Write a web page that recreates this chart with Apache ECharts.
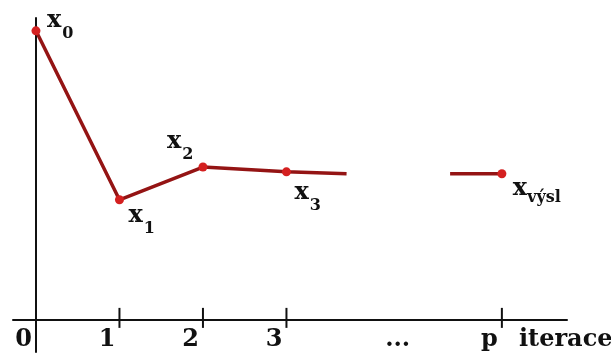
<!DOCTYPE html>
<html>
<head>
<meta charset="utf-8">
<script src="https://cdn.jsdelivr.net/npm/echarts@6/dist/echarts.min.js"></script>
<style>
  html, body { margin: 0; padding: 0; background: #fff; }
  #chart { width: 611px; height: 354px; }
</style>
</head>
<body>
<div id="chart"></div>
<script>
// Iterations of the method: index along the axis and the value reached
const iterX = [0, 1, 2, 3];
const iterY = [9.0, 3.74, 4.76, 4.61];
const iterNames = ['0', '1', '2', '3'];
// the curve fades out after x3 ...
const tailX = 3.72;
const tailY = 4.55;
// ... and picks up again just before the final iteration p
const finalStartX = 4.96;
const finalX = 5.58;
const finalY = 4.55;
const finalName = 'výsl';

// Axis marks along the iteration axis
const tickValues = [1, 2, 3, 5.58];
const axisLabelValues = [0, 1, 2, 3, 4.53, 5.58];
const axisLabelTexts = ['0', '1', '2', '3', '...', 'p'];
const axisTitle = 'iterace';

// where each point's caption sits relative to the point (px)
const captionOffsets = [[11, -22], [9, 4], [-36, -37], [8, 9]];
const finalCaptionOffset = [11, 3];

const serif = 'DejaVu Serif';
const ink = '#111';
const lineColor = '#941414';
const dotColor = '#d42020';

// the y range runs a little below zero so the vertical axis pokes under the iteration axis
const yMin = -1;
const yMax = 9.4;
const gridTop = 18;
const gridBottom = 2;
const chartHeight = 354;
// lift the iteration axis from the grid bottom up to y = 0
const plotHeight = chartHeight - gridTop - gridBottom;
const zeroLift = -Math.round(plotHeight * (0 - yMin) / (yMax - yMin));

// subscripts are dropped below the letter by opposite paddings
const captionRich = {
  x: { fontFamily: serif, fontWeight: 'bold', fontSize: 24, padding: [0, 0, 13, 0], color: ink },
  s: { fontFamily: serif, fontWeight: 'bold', fontSize: 16, padding: [13, 0, 0, 1], color: ink },
  v: { fontFamily: serif, fontWeight: 'bold', fontSize: 16, padding: [9, 0, 4, 0], color: ink }
};

function caption(offset, text) {
  return {
    show: true,
    position: 'inside',
    align: 'left',
    verticalAlign: 'top',
    offset: offset,
    formatter: text,
    rich: captionRich
  };
}

const mainData = iterX.map((x, i) => ({
  value: [x, iterY[i]],
  label: caption(captionOffsets[i], '{x|x}{s|' + iterNames[i] + '}')
}));
mainData.push({ value: [tailX, tailY], symbol: 'none' });

const finalData = [
  { value: [finalStartX, finalY], symbol: 'none' },
  { value: [finalX, finalY], label: caption(finalCaptionOffset, '{x|x}{v|' + finalName + '}') }
];

const chart = echarts.init(document.getElementById('chart'), null, { renderer: 'canvas' });
chart.setOption({
  animation: false,
  backgroundColor: '#fff',
  grid: { left: 13, right: 44, top: gridTop, bottom: gridBottom, containLabel: false, outerBoundsMode: 'none' },
  xAxis: {
    type: 'value',
    min: -0.275,
    max: 6.36,
    offset: zeroLift,
    axisLine: { show: true, onZero: false, lineStyle: { color: ink, width: 2 } },
    axisTick: { show: false },
    splitLine: { show: false },
    axisLabel: {
      show: true,
      customValues: axisLabelValues,
      formatter: function (v) {
        const k = axisLabelValues.findIndex(a => Math.abs(a - v) < 1e-6);
        return k >= 0 ? axisLabelTexts[k] : '';
      },
      align: 'right',
      padding: [0, 4, 0, 0],
      margin: 8,
      fontFamily: serif,
      fontWeight: 'bold',
      fontSize: 24,
      color: ink
    },
    name: axisTitle,
    nameLocation: 'end',
    nameGap: -48,
    nameTextStyle: {
      fontFamily: serif,
      fontWeight: 'bold',
      fontSize: 24,
      color: ink,
      align: 'left',
      verticalAlign: 'top',
      padding: [8, 0, 0, 0]
    }
  },
  yAxis: {
    type: 'value',
    min: yMin,
    max: yMax,
    axisLine: { show: true, onZero: true, lineStyle: { color: ink, width: 2 } },
    axisTick: { show: false },
    axisLabel: { show: false },
    splitLine: { show: false }
  },
  series: [
    {
      name: 'ticks',
      type: 'scatter',
      silent: true,
      symbol: 'rect',
      symbolSize: [2, 20],
      symbolOffset: [0, -2],
      itemStyle: { color: ink, opacity: 1 },
      data: tickValues.map(v => [v, 0]),
      z: 1
    },
    {
      name: 'iterace',
      type: 'line',
      symbol: 'circle',
      symbolSize: 9,
      showAllSymbol: true,
      lineStyle: { color: lineColor, width: 3.5 },
      itemStyle: { color: dotColor },
      data: mainData,
      z: 3
    },
    {
      name: 'výsledek',
      type: 'line',
      symbol: 'circle',
      symbolSize: 9,
      showAllSymbol: true,
      lineStyle: { color: lineColor, width: 3.5 },
      itemStyle: { color: dotColor },
      data: finalData,
      z: 3
    }
  ]
});
</script>
</body>
</html>
